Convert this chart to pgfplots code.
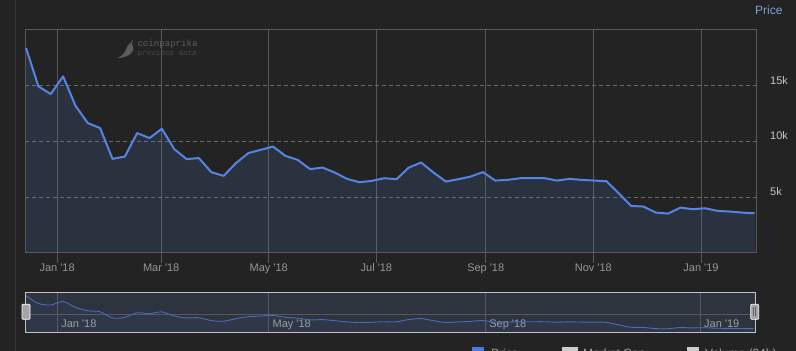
\documentclass[border=0pt]{standalone}
\usepackage{pgfplots}
\usepackage{pgfplotstable}
\pgfplotsset{compat=1.18}
\usepackage{fontspec}
\setmainfont{Liberation Sans}
\setmonofont{Liberation Mono}
\definecolor{bgc}{RGB}{35,35,35}
\definecolor{linec}{RGB}{85,133,228}
\definecolor{gridc}{RGB}{88,88,88}
\definecolor{dashc}{RGB}{105,105,105}
\definecolor{ylab}{RGB}{200,200,200}
\definecolor{xlab}{RGB}{150,150,150}
\definecolor{pricec}{RGB}{130,160,210}
\definecolor{wm}{RGB}{92,92,92}
\definecolor{wm2}{RGB}{72,72,72}
\definecolor{navbg}{RGB}{45,51,63}
\definecolor{navline}{RGB}{72,108,185}
\definecolor{navout}{RGB}{195,195,195}
\definecolor{leftc}{RGB}{55,55,55}
\definecolor{legtext}{RGB}{160,160,160}
\definecolor{legblue}{RGB}{72,122,222}
\definecolor{leggrey}{RGB}{205,205,205}

\pgfplotstableread{
d p
-17.6 18400
-10.6 14940
-3.6 14250
3.4 15840
10.4 13200
17.4 11640
24.4 11190
31.4 8420
38.4 8630
45.4 10740
52.4 10290
59.4 11130
66.4 9300
73.4 8400
80.4 8490
87.4 7230
94.4 6890
101.4 8040
108.4 8940
115.4 9230
122.4 9530
129.4 8690
136.4 8330
143.4 7500
150.4 7640
157.4 7190
164.4 6620
171.4 6320
178.4 6440
185.4 6680
192.4 6590
199.4 7640
206.4 8090
213.4 7190
220.4 6380
227.4 6590
234.4 6830
241.4 7230
248.4 6470
255.4 6530
262.4 6680
269.4 6680
276.4 6680
283.4 6470
290.4 6620
297.4 6530
304.4 6470
311.4 6410
318.4 5330
325.4 4190
332.4 4130
339.4 3590
346.4 3500
353.4 4040
360.4 3890
367.4 3980
374.4 3740
381.4 3680
388.4 3590
395.4 3530
}\pricedata

\begin{document}
\begin{tikzpicture}[x=1pt,y=1pt]
\clip (0,0) rectangle (796,351);
\fill[bgc] (0,0) rectangle (796,351);
\draw[leftc, line width=1pt] (15.5,0) -- (15.5,351);

% watermark
\fill[wm] (133.5,311) .. controls (132,309.5) and (131.5,308.5) .. (132,306.8)
  .. controls (135.5,301) and (131.5,293.8) .. (117.5,292.8)
  .. controls (125,296.5) and (125.8,301) .. (127.3,304.8)
  .. controls (128.5,307.3) and (130.5,307.8) .. (131,307.8)
  .. controls (130.8,309.5) and (132,311) .. cycle;
\node[anchor=base west, inner sep=0pt, text=wm, font=\ttfamily\fontsize{9.1}{10}\selectfont] at (137.3,304) {coinpaprika};
\node[anchor=base west, inner sep=0pt, text=wm2, font=\ttfamily\fontsize{7.6}{9}\selectfont] at (137.3,295.5) {provides data};

% Price label
\node[anchor=base west, inner sep=0pt, text=pricec, font=\fontsize{12}{14}\selectfont] at (755,336) {Price};

% main chart
\begin{axis}[
  at={(25pt,98.5pt)}, anchor=south west, scale only axis,
  width=731pt, height=223.5pt,
  xmin=-18.2, xmax=396.2, ymin=0, ymax=20100,
  scaled y ticks=false, scaled x ticks=false,
  axis line style={draw=gridc, line width=0.8pt},
  xtick={0,59,120,181,243,304,365},
  xticklabels={Jan \textquotesingle18, Mar \textquotesingle18, May \textquotesingle18, Jul \textquotesingle18, Sep \textquotesingle18, Nov \textquotesingle18, Jan \textquotesingle19},
  xtick pos=bottom, tick align=outside, major tick length=10pt,
  x tick style={draw=gridc, line width=0.8pt},
  ytick={5000,10000,15000}, yticklabels={5k,10k,15k},
  ytick pos=right, yticklabel pos=right, y tick style={draw=none},
  xmajorgrids, ymajorgrids,
  x grid style={gridc, line width=0.8pt},
  y grid style={dashc, line width=0.8pt, dash pattern=on 4pt off 3pt},
  xticklabel style={font=\fontsize{11}{13}\selectfont, text=xlab, anchor=base, inner sep=0pt, yshift=-8.5pt},
  yticklabel style={font=\fontsize{11}{13}\selectfont, text=ylab, anchor=west, inner sep=0pt, xshift=4pt, yshift=5.5pt},
  clip=true,
]
\addplot[draw=none, fill=linec, fill opacity=0.15] table[x=d, y=p] {\pricedata} \closedcycle;
\addplot[linec, line width=2pt, line join=round] table[x=d, y=p] {\pricedata};
\end{axis}

% navigator
\fill[navbg] (25,18.7) rectangle (755,58.3);
\begin{axis}[
  at={(25pt,18.7pt)}, anchor=south west, scale only axis,
  width=730pt, height=39.6pt,
  xmin=-18.2, xmax=396.2, ymin=1900, ymax=19800,
  scaled y ticks=false, scaled x ticks=false,
  axis line style={draw=navout, line width=0.9pt},
  xtick={0,120,243,365},
  xticklabels={Jan \textquotesingle18, May \textquotesingle18, Sep \textquotesingle18, Jan \textquotesingle19},
  major tick length=0pt,
  ytick={10000}, yticklabel=\empty,
  xmajorgrids, ymajorgrids,
  x grid style={gridc, line width=0.8pt},
  y grid style={gridc, line width=0.8pt},
  xticklabel style={font=\fontsize{11}{13}\selectfont, text=legtext, anchor=base west, inner sep=0pt, xshift=4pt, yshift=4.6pt},
  clip=true,
]
\addplot[draw=none, fill=linec, fill opacity=0.06, smooth] table[x=d, y=p] {\pricedata} \closedcycle;
\addplot[navline, line width=0.9pt, smooth] table[x=d, y=p] {\pricedata};
\end{axis}

% navigator handles
\filldraw[fill=leggrey!80!black, draw=white, line width=0.8pt, rounded corners=1pt] (22,31.7) rectangle (30,46.7);
\filldraw[fill=leggrey!80!black, draw=white, line width=0.8pt, rounded corners=1pt] (750.7,31.7) rectangle (758.7,46.7);
\draw[bgc!70!white, line width=0.7pt] (753.7,35) -- (753.7,43.5) (755.7,35) -- (755.7,43.5);

% legend (cut off at bottom edge, as in the reference)
\begin{scope}[overlay]
\fill[legblue] (472,-8) rectangle (484,4.3);
\node[anchor=base west, inner sep=0pt, text=legtext, font=\fontsize{12}{14}\selectfont] at (491,-6) {Price};
\fill[leggrey] (562.3,-8) rectangle (577.7,4.3);
\node[anchor=base west, inner sep=0pt, text=legtext, font=\fontsize{12}{14}\selectfont] at (583,-6) {Market Cap};
\fill[leggrey] (686.7,-8) rectangle (699,4.3);
\node[anchor=base west, inner sep=0pt, text=legtext, font=\fontsize{12}{14}\selectfont] at (705,-6) {Volume (24h)};
\end{scope}
\end{tikzpicture}
\end{document}
